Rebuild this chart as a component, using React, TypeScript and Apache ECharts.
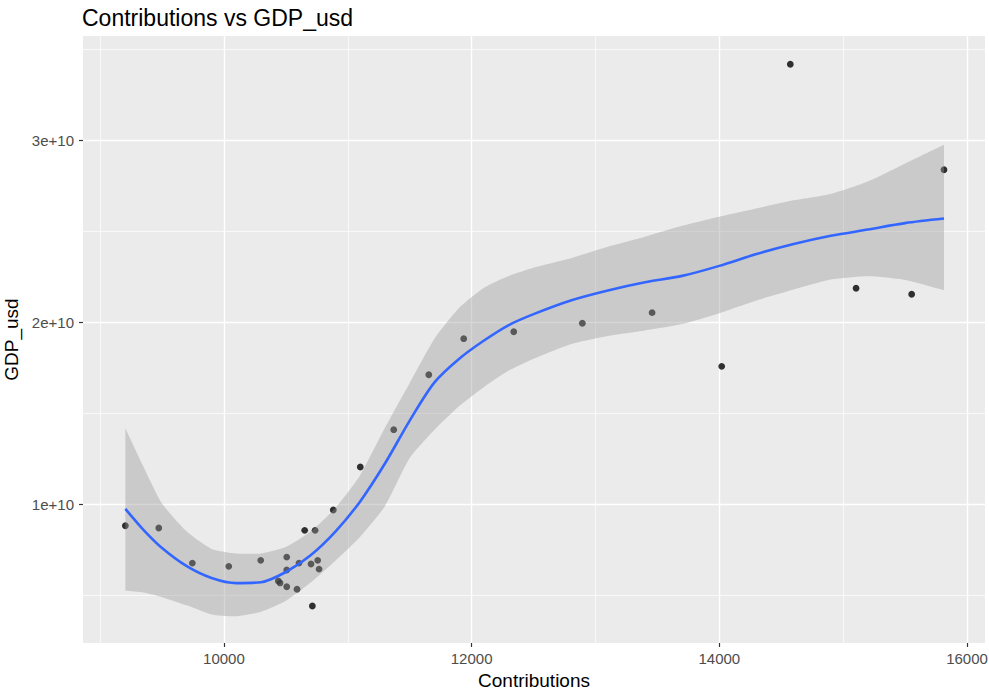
import React, { useEffect, useRef } from "react";
import * as echarts from "echarts";

// Observed data
const contributions = [
  9204, 9474, 9745, 10039, 10297, 10439, 10453, 10507, 10507, 10507, 10590, 10606, 10652, 10736,
  10703, 10757, 10768, 10714, 10883, 11101, 11371, 11654, 11936, 12340, 12894, 13457, 14019,
  14573, 15104, 15553, 15814,
];
const gdpUsd = [
  8.82e9, 8.7e9, 6.77e9, 6.59e9, 6.92e9, 5.79e9, 5.68e9, 7.1e9, 6.39e9, 5.47e9, 5.33e9, 6.77e9,
  8.57e9, 8.57e9, 6.72e9, 6.92e9, 6.44e9, 4.41e9, 9.69e9, 1.205e10, 1.41e10, 1.712e10, 1.91e10,
  1.948e10, 1.995e10, 2.053e10, 1.758e10, 3.418e10, 2.187e10, 2.154e10, 2.838e10,
];

// Loess smooth and its confidence band
const smoothX = [
  9204, 9350, 9500, 9700, 9900, 10100, 10300, 10500, 10700, 10900, 11100, 11300, 11500, 11700,
  11900, 12100, 12300, 12500, 12800, 13100, 13400, 13700, 14000, 14300, 14600, 14900, 15200,
  15500, 15814,
];
const smoothFit = [
  0.975e10, 0.86e10, 0.76e10, 0.66e10, 0.595e10, 0.567e10, 0.572e10, 0.628e10, 0.72e10, 0.85e10,
  1.016e10, 1.224e10, 1.46e10, 1.67e10, 1.8e10, 1.9e10, 1.985e10, 2.045e10, 2.12e10, 2.175e10,
  2.22e10, 2.255e10, 2.31e10, 2.375e10, 2.43e10, 2.475e10, 2.51e10, 2.545e10, 2.57e10,
];
const bandUpper = [
  1.418e10, 1.207e10, 1.005e10, 0.85e10, 0.755e10, 0.73e10, 0.73e10, 0.765e10, 0.85e10, 0.98e10,
  1.16e10, 1.42e10, 1.667e10, 1.91e10, 2.08e10, 2.19e10, 2.255e10, 2.3e10, 2.352e10, 2.415e10,
  2.47e10, 2.53e10, 2.58e10, 2.625e10, 2.67e10, 2.705e10, 2.773e10, 2.872e10, 2.975e10,
];
const bandLower = [
  0.525e10, 0.515e10, 0.49e10, 0.445e10, 0.395e10, 0.385e10, 0.41e10, 0.47e10, 0.57e10, 0.69e10,
  0.822e10, 0.99e10, 1.254e10, 1.41e10, 1.54e10, 1.645e10, 1.735e10, 1.8e10, 1.88e10, 1.925e10,
  1.955e10, 1.99e10, 2.05e10, 2.12e10, 2.18e10, 2.235e10, 2.253e10, 2.233e10, 2.177e10,
];

// Axes
const xTicks = [10000, 12000, 14000, 16000];
const yTicks = [1e10, 2e10, 3e10];
const xRange = [8862, 16145];
const yRange = [2.38e9, 3.573e10];

const FONT = "'Liberation Sans', Arial, sans-serif";

export default function App() {
  const ref = useRef<HTMLDivElement>(null);

  useEffect(() => {
    if (!ref.current) return;
    const chart = echarts.init(ref.current, undefined, { renderer: "svg" });

    const points = contributions.map((x, i) => [x, gdpUsd[i]]);
    const fitLine = smoothX.map((x, i) => [x, smoothFit[i]]);

    chart.setOption({
      animation: false,
      title: {
        text: "Contributions vs GDP_usd",
        left: 82,
        top: 6,
        padding: 0,
        textStyle: { fontFamily: FONT, fontSize: 23, fontWeight: "normal", color: "#000" },
      },
      grid: {
        left: 83,
        right: 4,
        top: 36,
        bottom: 48,
        show: true,
        backgroundColor: "#EBEBEB",
        borderWidth: 0,
        containLabel: false,
        outerBoundsMode: "none",
      },
      xAxis: {
        type: "value",
        min: xRange[0],
        max: xRange[1],
        splitNumber: 4,
        name: "Contributions",
        nameLocation: "middle",
        nameGap: 27,
        nameTextStyle: { fontFamily: FONT, fontSize: 19, color: "#000" },
        axisLine: { show: false },
        axisTick: {
          show: true,
          length: 4,
          customValues: xTicks,
          lineStyle: { color: "#333", width: 1.2 },
        },
        axisLabel: {
          customValues: xTicks,
          color: "#4D4D4D",
          fontFamily: FONT,
          fontSize: 15,
          margin: 8,
          formatter: (v: number) => String(Math.round(v)),
        },
        splitLine: { show: true, lineStyle: { color: "#fff", width: 1.4 } },
        minorTick: { show: false, splitNumber: 2 },
        minorSplitLine: { show: true, lineStyle: { color: "#fff", width: 0.7 } },
      },
      yAxis: {
        type: "value",
        min: yRange[0],
        max: yRange[1],
        splitNumber: 4,
        name: "GDP_usd",
        nameLocation: "middle",
        nameGap: 51,
        nameRotate: 90,
        nameTextStyle: { fontFamily: FONT, fontSize: 19, color: "#000" },
        axisLine: { show: false },
        axisTick: {
          show: true,
          length: 4,
          customValues: yTicks,
          lineStyle: { color: "#333", width: 1.2 },
        },
        axisLabel: {
          customValues: yTicks,
          color: "#4D4D4D",
          fontFamily: FONT,
          fontSize: 15,
          margin: 9,
          formatter: (v: number) => `${Math.round(v / 1e10)}e+10`,
        },
        splitLine: { show: true, lineStyle: { color: "#fff", width: 1.4 } },
        minorTick: { show: false, splitNumber: 2 },
        minorSplitLine: { show: true, lineStyle: { color: "#fff", width: 0.7 } },
      },
      series: [
        {
          type: "scatter",
          data: points,
          symbolSize: 6.8,
          itemStyle: { color: "#000" },
          z: 2,
        },
        {
          type: "custom",
          data: [[smoothX[0], smoothFit[0]]],
          z: 3,
          silent: true,
          renderItem: (params: any, api: any) => {
            if (params.dataIndex !== 0) return null;
            const up = smoothX.map((x, i) => api.coord([x, bandUpper[i]]));
            const lo = smoothX.map((x, i) => api.coord([x, bandLower[i]])).reverse();
            const n = up.length;
            // duplicate the four corners so the smoothing keeps the ends straight
            const pts = [up[0], ...up, up[n - 1], lo[0], ...lo, lo[n - 1]];
            return {
              type: "polygon",
              shape: { points: pts, smooth: 0.2 },
              style: { fill: "rgba(153,153,153,0.4)", stroke: "none" },
            };
          },
        },
        {
          type: "line",
          data: fitLine,
          showSymbol: false,
          smooth: 0.3,
          lineStyle: { color: "#3366FF", width: 2.6 },
          z: 4,
        },
      ],
    });

    return () => chart.dispose();
  }, []);

  return (
    <div
      ref={ref}
      style={{ position: "fixed", left: 0, top: 0, width: 989, height: 691, background: "#fff" }}
    />
  );
}
